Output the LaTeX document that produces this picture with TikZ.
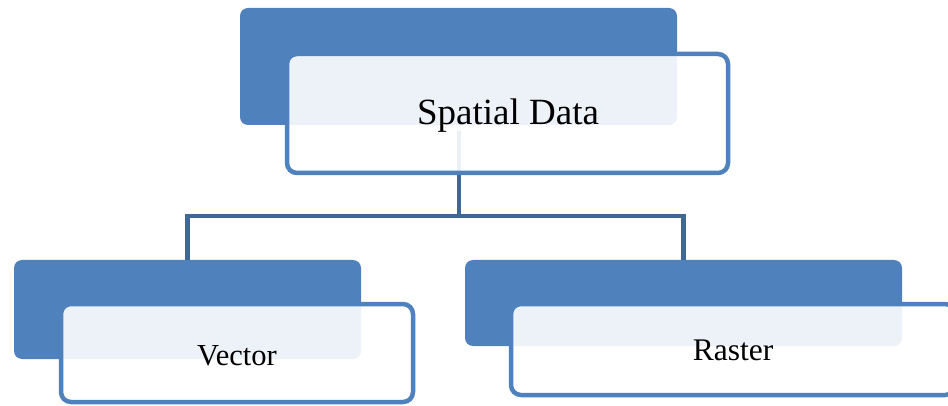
\documentclass[tikz,border=0pt]{standalone}
\usepackage{fontspec}
\setmainfont{Liberation Serif}
\definecolor{accent}{HTML}{4F81BD}
\definecolor{linkblue}{HTML}{3F6797}
\tikzset{
  backbox/.style={rectangle, rounded corners=8pt, fill=accent, draw=none, inner sep=0pt},
  frontbox/.style={rectangle, rounded corners=10pt, draw=accent, line width=4.5pt, fill=white, fill opacity=0.9, inner sep=0pt},
  boxlabel/.style={anchor=base, inner sep=0pt, text=black},
  link/.style={draw=linkblue, line width=4.5pt}
}
\begin{document}
\begin{tikzpicture}[x=1pt,y=-1pt]
\useasboundingbox (0,0) rectangle (948,406);
\clip (0,0) rectangle (948,406);
\fill[white] (0,0) rectangle (948,406);
% back boxes
\node[backbox, minimum width=437pt, minimum height=117pt] (tb) at (458.5,66.5) {};
\node[backbox, minimum width=347pt, minimum height=99pt] (lb) at (187.5,309.5) {};
\node[backbox, minimum width=437pt, minimum height=86pt] (rb) at (683.5,303) {};
% connectors
\coordinate (c0) at (459,131);
\coordinate (c1) at (459,216);
\draw[link] (c0) -- (c1) -| (lb.north);
\draw[link] (c1) -| (rb.north);
% front boxes
\node[frontbox, minimum width=441pt, minimum height=119pt] (tf) at (507.5,113.5) {};
\node[frontbox, minimum width=352pt, minimum height=98pt] (lf) at (237,353) {};
\node[frontbox, minimum width=444pt, minimum height=91pt] (rf) at (733,349.5) {};
% labels
\node[boxlabel, font=\fontsize{37}{40}\selectfont] (tt) at (508,125) {Spatial Data};
\node[boxlabel, font=\fontsize{30.5}{33}\selectfont] (lt) at (237,365) {Vector};
\node[boxlabel, font=\fontsize{31.5}{34}\selectfont] (rt) at (733,360) {Raster};
\end{tikzpicture}
\end{document}
